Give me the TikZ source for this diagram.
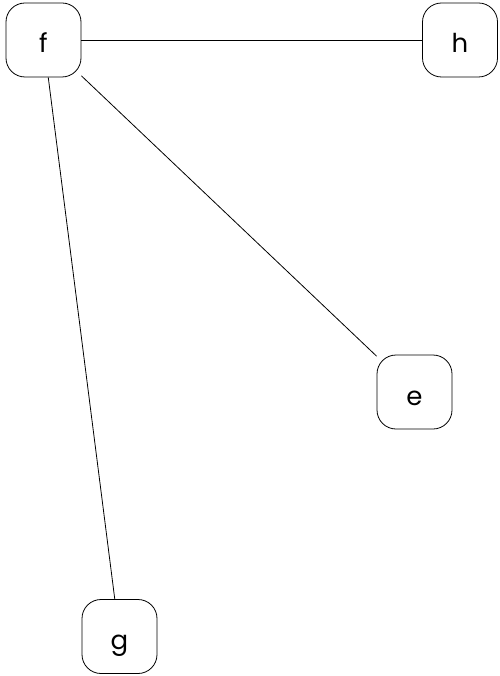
\documentclass[tikz,border=0pt]{standalone}
\usepackage{fontspec}
\setmainfont{Poppins}
\begin{document}
\begin{tikzpicture}[x=1pt,y=-1pt,
  vbox/.style={draw, rounded corners=19pt, minimum width=75pt, minimum height=74pt, inner sep=0pt, text height=30pt, text depth=4pt, font=\fontsize{26}{30}\selectfont, line width=0.8pt},
  edge/.style={line width=0.8pt}]
\useasboundingbox (0,0) rectangle (499,676);
\node[vbox] (f) at (43.5,40) {f};
\node[vbox] (h) at (460,40) {h};
\node[vbox] (e) at (414.5,392) {e};
\node[vbox] (g) at (119.5,636.5) {g};
\draw[edge] (f) -- (h);
\draw[edge] (f) -- (e);
\draw[edge] (f) -- (g);
\end{tikzpicture}
\end{document}
